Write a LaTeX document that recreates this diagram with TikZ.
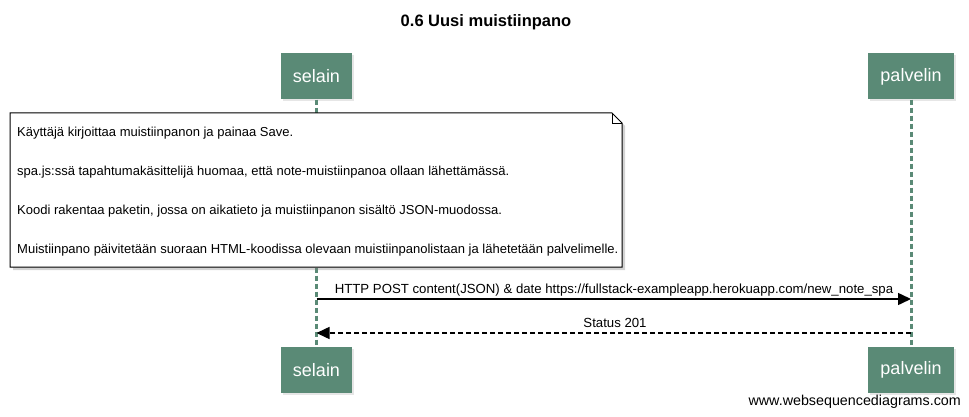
\documentclass[tikz,border=0pt]{standalone}
\usepackage{fontspec}
\setmainfont{Liberation Sans}
\usepackage{tikz}
\usetikzlibrary{arrows.meta,shadows}
\definecolor{actorgreen}{HTML}{5A8A76}

\begin{document}
\begin{tikzpicture}[x=1pt,y=-1pt,
		actor/.style={fill=actorgreen,text=white,font=\fontsize{18}{21}\selectfont,minimum height=46pt,inner xsep=12pt,drop shadow={opacity=0.2,shadow xshift=2pt,shadow yshift=-2pt}},
		lifeline/.style={actorgreen,line width=3pt,dash pattern=on 5pt off 3pt},
		notetext/.style={anchor=west,inner sep=0pt,font=\fontsize{13}{15}\selectfont},
		msg/.style={line width=1.5pt,-{Triangle[length=13pt,width=12pt]}},
		msglabel/.style={inner sep=0pt,font=\fontsize{13.2}{15}\selectfont}]
		\useasboundingbox (0,0) rectangle (969,417);

		\node[font=\bfseries\fontsize{16.5}{19}\selectfont] (title) at (486,22) {0.6 Uusi muistiinpano};

		\node[actor] (selain)    at (316.5, 76.5) {selain};
		\node[actor] (palvelin)  at (911,   76.5) {palvelin};
		\node[actor] (selainb)   at (316.5,370)   {selain};
		\node[actor] (palvelinb) at (911,  370)   {palvelin};

		\draw[lifeline] (selain.south)   -- (selainb.north);
		\draw[lifeline] (palvelin.south) -- (palvelinb.north);

		\path[draw,fill=white,line width=1pt,drop shadow={opacity=0.35,shadow xshift=3pt,shadow yshift=-3pt}]
			(10,113) -- (612,113) -- (622,123) -- (622,267) -- (10,267) -- cycle;
		\draw[line width=0.8pt] (612,113) -- (612,123) -- (622,123);

		\node[notetext] (line1) at (17,133) {Käyttäjä kirjoittaa muistiinpanon ja painaa Save.};
		\node[notetext] (line2) at (17,172) {spa.js:ssä tapahtumakäsittelijä huomaa, että note-muistiinpanoa ollaan lähettämässä.};
		\node[notetext] (line3) at (17,211) {Koodi rakentaa paketin, jossa on aikatieto ja muistiinpanon sisältö JSON-muodossa.};
		\node[notetext] (line4) at (17,250) {Muistiinpano päivitetään suoraan HTML-koodissa olevaan muistiinpanolistaan ja lähetetään palvelimelle.};

		\coordinate (posts) at (316.5,299);
		\coordinate (postr) at (911,299);
		\coordinate (stats) at (911,333);
		\coordinate (statr) at (316.5,333);

		\draw[msg] (posts) -- (postr);
		\draw[msg,dash pattern=on 5pt off 3pt] (stats) -- (statr);

		\node[msglabel] (postlabel) at (614,290) {HTTP POST content(JSON) \& date https://fullstack-exampleapp.herokuapp.com/new\_note\_spa};
		\node[msglabel] (statlabel) at (615,323) {Status 201};

		\node[anchor=east,inner sep=0pt,font=\fontsize{14.3}{16}\selectfont] (credit) at (961,402) {www.websequencediagrams.com};
	\end{tikzpicture}
\end{document}
